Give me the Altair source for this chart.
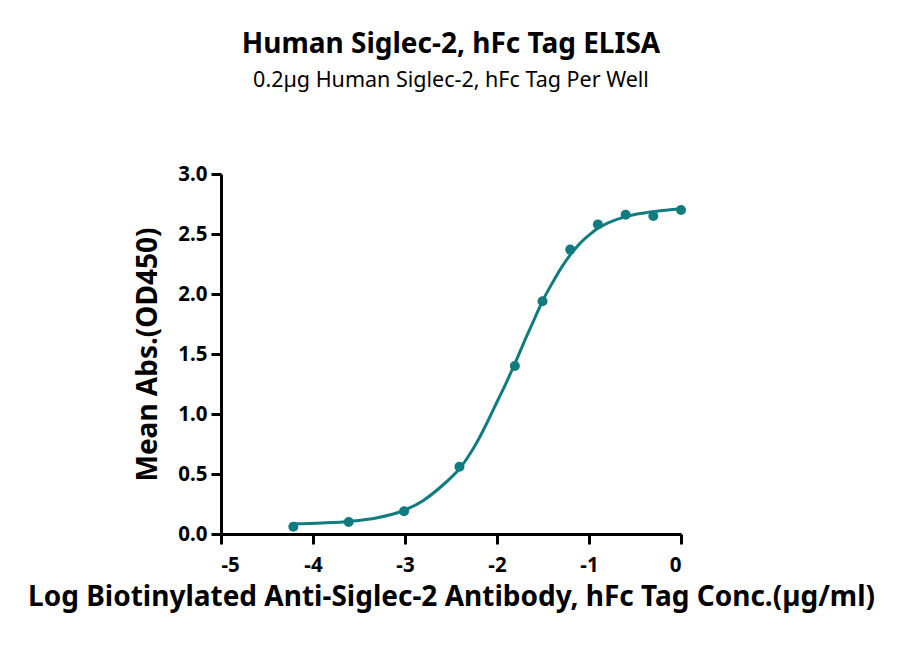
import altair as alt
import pandas as pd

# measured points (log conc, OD450)
log_conc = [-4.214, -3.612, -3.010, -2.408, -1.806, -1.505, -1.204, -0.903, -0.602, -0.301, 0.0]
od450 = [0.06, 0.10, 0.19, 0.56, 1.40, 1.94, 2.37, 2.58, 2.66, 2.65, 2.70]

# fitted curve
curve_x = [-4.22, -3.9, -3.6, -3.3, -3.0, -2.8, -2.6, -2.5, -2.4, -2.3, -2.2, -2.1, -2.0,
           -1.9, -1.8, -1.7, -1.6, -1.5, -1.4, -1.3, -1.2, -1.1, -1.0, -0.9, -0.8,
           -0.6, -0.4, -0.2, 0.0]
curve_y = [0.085, 0.092, 0.105, 0.135, 0.20, 0.28, 0.40, 0.47, 0.55, 0.66, 0.79, 0.94, 1.10,
           1.26, 1.43, 1.61, 1.78, 1.95, 2.09, 2.22, 2.33, 2.42, 2.49, 2.55, 2.59,
           2.645, 2.675, 2.695, 2.71]

x_ticks = [-5, -4, -3, -2, -1, 0]
y_ticks = [0.0, 0.5, 1.0, 1.5, 2.0, 2.5, 3.0]

teal = "#117c7f"
font = "Noto Sans"

pts = pd.DataFrame({"x": log_conc, "y": od450})
fit = pd.DataFrame({"x": curve_x, "y": curve_y})

x_enc = alt.X(
    "x:Q",
    title="Log Biotinylated Anti-Siglec-2 Antibody, hFc Tag Conc.(µg/ml)",
    scale=alt.Scale(domain=[-5, 0], nice=False),
    axis=alt.Axis(values=x_ticks, labelExpr="'' + datum.value", labelPadding=11, titlePadding=8),
)
y_enc = alt.Y(
    "y:Q",
    title="Mean Abs.(OD450)",
    scale=alt.Scale(domain=[0, 3], nice=False),
    axis=alt.Axis(values=y_ticks, format=".1f", labelPadding=4, titlePadding=15),
)

line = alt.Chart(fit).mark_line(color=teal, strokeWidth=3, interpolate="monotone").encode(x=x_enc, y=y_enc)
dots = alt.Chart(pts).mark_circle(color=teal, size=100, opacity=1).encode(x="x:Q", y="y:Q")

chart = (
    (line + dots)
    .properties(
        width=460,
        height=360,
        autosize=alt.AutoSizeParams(type="none"),
        padding={"left": 213, "top": 166, "right": 200, "bottom": 100},
        title=alt.TitleParams(
            "Human Siglec-2, hFc Tag ELISA",
            subtitle="0.2µg Human Siglec-2, hFc Tag Per Well",
            anchor="middle",
            font=font,
            fontSize=28,
            fontWeight="bold",
            color="black",
            subtitleFont=font,
            subtitleFontSize=21.5,
            subtitleColor="black",
            subtitlePadding=11,
            offset=73,
        ),
    )
    .configure_view(stroke=None)
    .configure_axis(
        grid=False,
        domainColor="black",
        domainWidth=3,
        tickColor="black",
        tickWidth=3,
        tickSize=10,
        labelFont=font,
        labelFontSize=20.5,
        labelFontWeight="bold",
        labelColor="black",
        titleFont=font,
        titleFontSize=28,
        titleFontWeight="bold",
        titleColor="black",
    )
)

chart.save("out.html", embed_options={"renderer": "svg", "actions": False})
